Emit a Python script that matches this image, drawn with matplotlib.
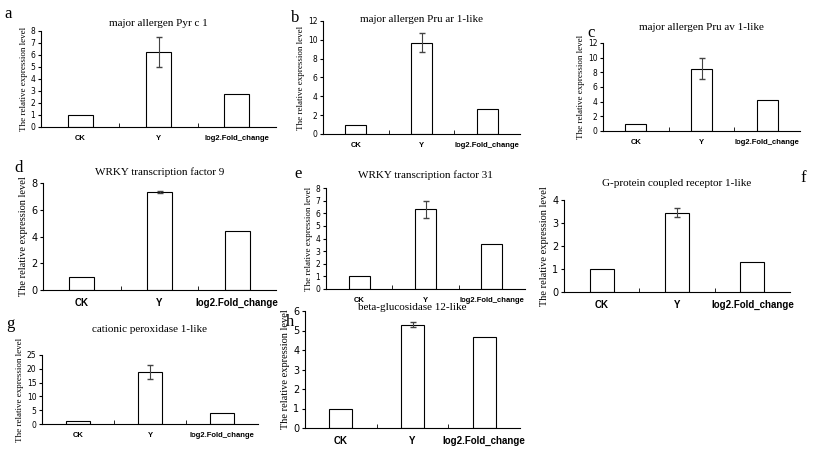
import matplotlib
matplotlib.use("Agg")
import matplotlib.pyplot as plt

cats = ["CK", "Y", "log2.Fold_change"]
titles = ["major allergen Pyr c 1", "major allergen Pru ar 1-like", "major allergen Pru av 1-like",
          "WRKY transcription factor 9", "WRKY transcription factor 31", "G-protein coupled receptor 1-like",
          "cationic peroxidase 1-like", "beta-glucosidase 12-like"]
letters = ["a", "b", "c", "d", "e", "f", "g", "h"]
vals = [[1, 6.25, 2.75], [1, 9.7, 2.7], [1, 8.5, 4.2], [1, 7.3, 4.4],
        [1, 6.3, 3.55], [1, 3.45, 1.32], [1.1, 18.8, 3.9], [1, 5.3, 4.68]]
y_err = [1.25, 1.0, 1.4, 0.07, 0.7, 0.2, 2.4, 0.12]
ymax = [8, 12, 12, 8, 8, 4, 25, 6]
ystep = [1, 2, 2, 2, 1, 1, 5, 1]

W, H = 821, 450
# left, right, top(ymax), bottom(zero) in pixels
boxes = [(41, 276, 31, 127), (323, 520, 21, 134), (603, 800, 43, 131), (43, 276, 183, 290),
         (326, 525, 188, 289), (564, 790, 200, 292), (42, 258, 355, 424), (305, 520, 311, 428)]
title_y = [23, 20, 28, 172, 175, 183, 330, 307]
letter_xy = [(4, 14), (291, 18), (587, 33), (14, 168), (294, 174), (800, 178), (6, 324), (286, 322)]
big = [False, False, False, True, False, True, False, True]

fig = plt.figure(figsize=(W / 100, H / 100), dpi=100)
for i in range(8):
    l, r, t, b = boxes[i]
    ax = fig.add_axes([l / W, 1 - b / H, (r - l) / W, (b - t) / H])
    ax.bar(range(3), vals[i], width=0.32, color="white", edgecolor="black", linewidth=0.8)
    ax.errorbar([1], [vals[i][1]], yerr=[y_err[i]], fmt="none", ecolor="#444444",
                elinewidth=0.8, capsize=2)
    ax.set_ylim(0, ymax[i])
    ax.set_xlim(-0.5, 2.5)
    ax.set_yticks(range(0, ymax[i] + 1, ystep[i]))
    ax.set_xticks([0.5, 1.5], minor=True)
    ax.set_xticks(range(3))
    fs = 7 if big[i] else 5.5
    ax.set_xticklabels(cats, fontsize=fs, fontweight="bold", family="Liberation Sans")
    ax.tick_params(axis="y", labelsize=fs, length=2, pad=2)
    ax.tick_params(axis="x", which="major", length=0, pad=6)
    ax.tick_params(axis="x", which="minor", length=3, direction="in")
    for s in ["top", "right"]:
        ax.spines[s].set_visible(False)
    ax.set_ylabel("The relative expression level", fontsize=7.5 if big[i] else 6.5,
                  family="Liberation Serif", labelpad=2)
    fig.text((l + r) / 2 / W, 1 - title_y[i] / H, titles[i], ha="center", va="center",
             fontsize=8, family="Liberation Serif")
    fig.text(letter_xy[i][0] / W, 1 - letter_xy[i][1] / H, letters[i], ha="left", va="center",
             fontsize=12, family="Liberation Serif")

fig.savefig("out.png", dpi=100, facecolor="white")
